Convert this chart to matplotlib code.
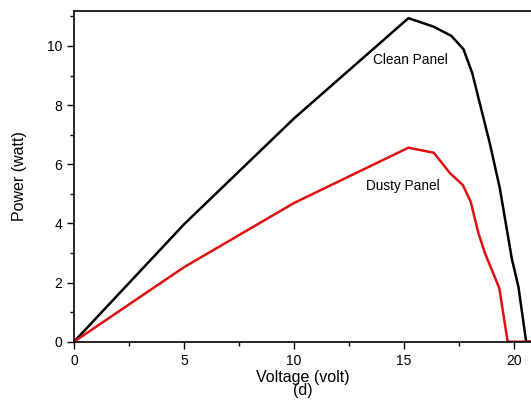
import matplotlib
matplotlib.use('Agg')
import matplotlib.pyplot as plt
from matplotlib.ticker import MultipleLocator

# Power vs voltage readings
clean_v = [0, 5, 10, 15.2, 16.35, 17.15, 17.7, 18.1, 18.9, 19.35, 19.9, 20.2, 20.55, 20.8]
clean_p = [0, 3.97, 7.55, 10.94, 10.65, 10.34, 9.89, 9.08, 6.7, 5.2, 2.8, 1.85, 0, 0]

dusty_v = [0, 5, 10, 15.2, 16.35, 17.1, 17.67, 18.03, 18.38, 18.68, 19.33, 19.71, 20.8]
dusty_p = [0, 2.52, 4.69, 6.56, 6.39, 5.69, 5.30, 4.73, 3.67, 2.99, 1.81, 0, 0]

plt.rcParams['font.family'] = ['Liberation Sans', 'DejaVu Sans']

fig = plt.figure(figsize=(5.31, 4.09), dpi=100)
ax = fig.add_axes([0.1394, 0.1645, 0.8606, 0.8085])

ax.plot(clean_v, clean_p, color='black', lw=1.8)
ax.plot(dusty_v, dusty_p, color='#e01010', lw=1.8)

ax.text(15.3, 9.53, 'Clean Panel', ha='center', va='center', fontsize=9.8)
ax.text(14.95, 5.27, 'Dusty Panel', ha='center', va='center', fontsize=9.8)

ax.set_xlim(0, 20.77)
ax.set_ylim(0, 11.18)
ax.xaxis.set_major_locator(MultipleLocator(5))
ax.xaxis.set_minor_locator(MultipleLocator(2.5))
ax.yaxis.set_major_locator(MultipleLocator(2))
ax.yaxis.set_minor_locator(MultipleLocator(1))
ax.tick_params(which='major', direction='out', length=5, width=1, labelsize=10)
ax.tick_params(which='minor', direction='out', length=3, width=1)
ax.spines['right'].set_visible(False)
for s in ['left', 'bottom', 'top']:
    ax.spines[s].set_linewidth(1.2)

ax.set_ylabel('Power (watt)', fontsize=11.5, labelpad=14)
ax.set_xlabel('Voltage (volt)\n(d)', fontsize=11.5, labelpad=2, linespacing=0.8)

plt.savefig('out.png', dpi=100)
plt.close()
